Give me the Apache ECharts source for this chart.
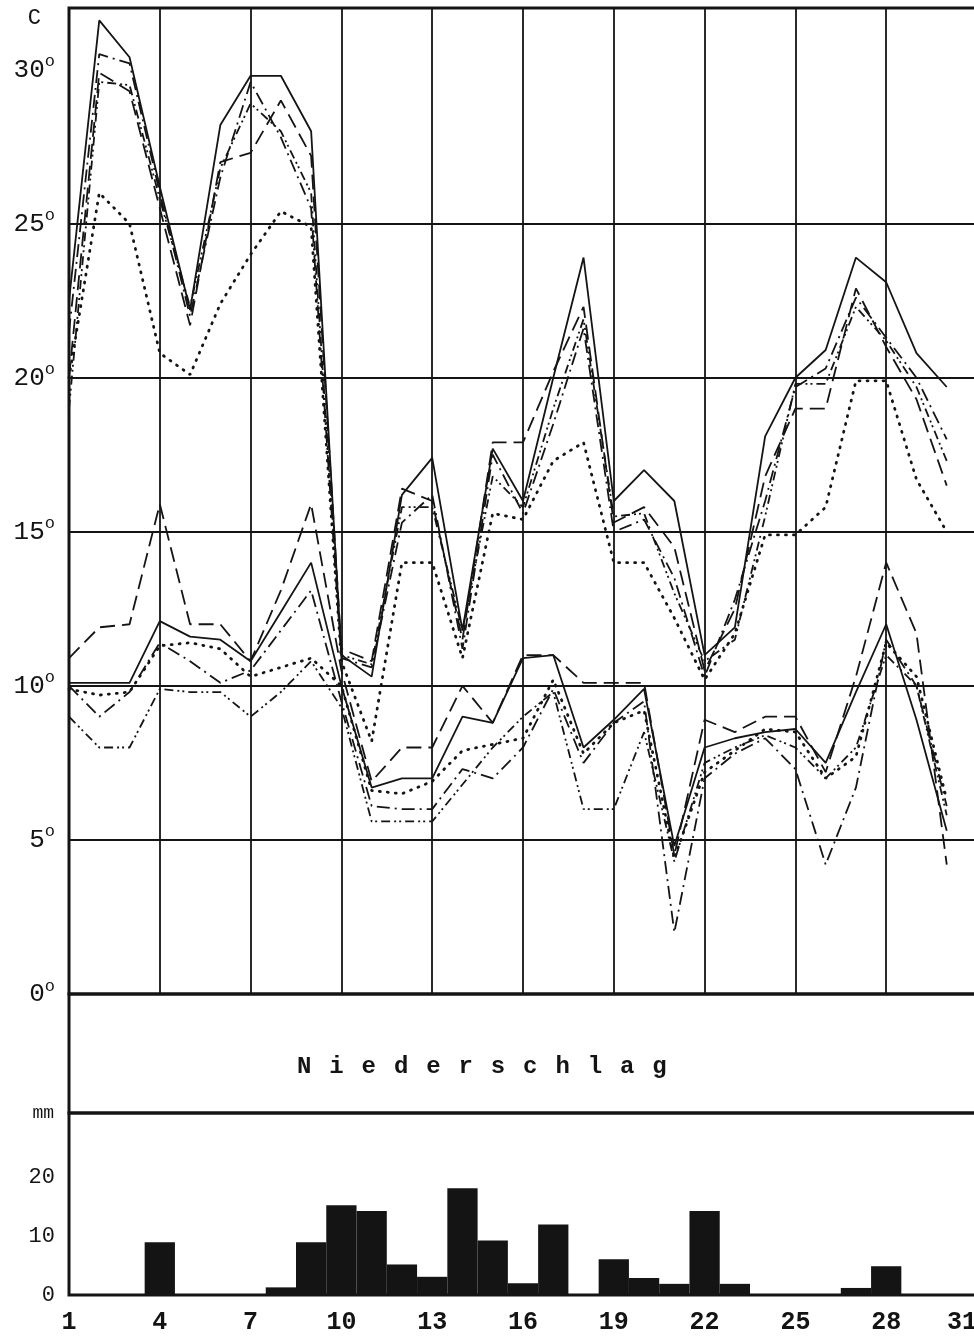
<!DOCTYPE html>
<html>
<head>
<meta charset="utf-8">
<script src="https://cdn.jsdelivr.net/npm/echarts@6/dist/echarts.min.js"></script>
<style>
  html, body { margin: 0; padding: 0; background: #fff; overflow: hidden; }
  #chart { width: 980px; height: 1337px; }
</style>
</head>
<body>
<div id="chart"></div>
<script>
// days of the month (x axis categories)
const days = ['1', '2', '3', '4', '5', '6', '7', '8', '9', '10', '11', '12', '13', '14', '15', '16',
  '17', '18', '19', '20', '21', '22', '23', '24', '25', '26', '27', '28', '29', '30', '31']

// daily maxima, one array per station (line style)
const maxSolid = [22.5, 31.6, 30.4, 26.2, 22.2, 28.2, 29.8, 29.8, 28.0, 11.0, 10.3, 16.2, 17.4, 11.8, 17.7, 16.0,
  20.0, 23.9, 16.0, 17.0, 16.0, 11.0, 11.9, 18.1, 20.0, 20.9, 23.9, 23.1, 20.8, 19.7, null]
const maxLongDash = [20.0, 29.9, 29.3, 25.5, 21.7, 27.0, 27.3, 29.0, 27.2, 11.2, 10.8, 16.4, 16.0, 11.5, 17.9, 17.9,
  20.2, 22.3, 15.3, 15.8, 14.5, 10.5, 12.5, 16.8, 19.0, 19.0, 22.9, 21.0, 19.3, 16.5, null]
const maxDashDot = [21.5, 30.5, 30.2, 26.0, 22.0, 26.5, 29.6, 27.8, 25.5, 10.9, 10.6, 15.3, 16.2, 11.2, 17.5, 15.6,
  18.5, 21.6, 15.0, 15.4, 13.5, 10.3, 12.8, 16.0, 19.7, 20.3, 22.6, 21.3, 20.0, 18.0, null]
const maxDashDotDot = [19.0, 29.6, 29.5, 25.8, 22.3, 26.8, 28.9, 28.0, 26.0, 11.0, 10.7, 15.8, 15.8, 11.8, 16.8, 15.8,
  19.0, 21.9, 15.5, 15.6, 13.0, 10.8, 11.5, 15.5, 19.8, 19.8, 22.3, 21.2, 19.7, 17.3, null]
const maxDotted = [20.0, 26.0, 25.0, 20.8, 20.1, 22.4, 24.0, 25.4, 24.9, 10.8, 8.2, 14.0, 14.0, 10.9, 15.6, 15.4,
  17.3, 17.9, 14.0, 14.0, 12.2, 10.2, 11.7, 14.9, 14.9, 15.8, 19.9, 19.9, 16.7, 15.0, null]

// daily minima
const minSolid = [10.1, 10.1, 10.1, 12.1, 11.6, 11.5, 10.8, 12.4, 14.0, 10.0, 6.7, 7.0, 7.0, 9.0, 8.8, 10.9,
  11.0, 8.0, 8.9, 9.9, 4.8, 8.0, 8.3, 8.5, 8.6, 7.5, 9.8, 12.0, 8.9, 5.3, null]
const minLongDash = [10.9, 11.9, 12.0, 15.9, 12.0, 12.0, 10.8, 13.1, 15.9, 10.5, 6.9, 8.0, 8.0, 10.0, 8.8, 11.0,
  11.0, 10.1, 10.1, 10.1, 4.5, 8.9, 8.5, 9.0, 9.0, 7.2, 10.3, 14.0, 11.7, 4.2, null]
const minDashDot = [10.0, 9.0, 9.8, 11.4, 10.8, 10.1, 10.5, 11.8, 13.1, 9.5, 6.1, 6.0, 6.0, 7.3, 7.0, 8.0,
  9.9, 7.5, 8.8, 9.5, 2.0, 7.0, 7.8, 8.3, 7.3, 4.2, 6.7, 11.5, 10.0, 6.1, null]
const minDashDotDot = [9.0, 8.0, 8.0, 9.9, 9.8, 9.8, 9.0, 9.8, 10.8, 9.3, 5.6, 5.6, 5.6, 6.8, 8.0, 9.0,
  9.8, 6.0, 6.0, 8.5, 4.3, 7.5, 8.0, 8.4, 8.0, 7.0, 8.0, 11.0, 10.0, 5.8, null]
const minDotted = [9.9, 9.7, 9.8, 11.3, 11.4, 11.2, 10.3, 10.6, 10.9, 10.0, 6.6, 6.5, 6.9, 7.9, 8.1, 8.3,
  10.2, 7.8, 8.8, 9.2, 4.4, 7.2, 7.9, 8.6, 8.5, 7.0, 7.7, 11.4, 10.3, 6.3, null]

// Niederschlag, mm per day
const rain = [0, 0, 0, 9.0, 0, 0, 0, 1.3, 9.0, 15.3, 14.3, 5.2, 3.1, 18.2, 9.3, 2.0,
  12.0, 0, 6.1, 2.9, 1.9, 14.3, 1.9, 0, 0, 0, 1.2, 4.9, 0, 0, 0]

// horizontal rules of the temperature part
const tempRules = [5, 10, 15, 20, 25]
const bandTitle = 'Niederschlag'

const ink = '#141414'
const mono = 'Liberation Mono'

const styles = {
  solid: { type: 'solid', width: 1.8 },
  longDash: { type: [15, 7], width: 1.8 },
  dashDot: { type: [13, 5, 2, 5], width: 1.8 },
  dashDotDot: { type: [9, 4, 2, 3, 2, 4], width: 1.8 },
  dotted: { type: [1, 7], width: 2.8, cap: 'round' }
}

function line (data, style) {
  return {
    type: 'line',
    xAxisIndex: 0,
    yAxisIndex: 0,
    data: data,
    symbol: 'none',
    silent: true,
    lineStyle: Object.assign({ color: ink }, styles[style])
  }
}

const series = [
  line(maxSolid, 'solid'),
  line(maxLongDash, 'longDash'),
  line(maxDashDot, 'dashDot'),
  line(maxDashDotDot, 'dashDotDot'),
  line(maxDotted, 'dotted'),
  line(minSolid, 'solid'),
  line(minLongDash, 'longDash'),
  line(minDashDot, 'dashDot'),
  line(minDashDotDot, 'dashDotDot'),
  line(minDotted, 'dotted'),
  {
    type: 'bar',
    xAxisIndex: 2,
    yAxisIndex: 2,
    data: rain,
    barWidth: '100%',
    silent: true,
    itemStyle: { color: ink }
  }
]

series[0].markLine = {
  silent: true,
  symbol: 'none',
  label: { show: false },
  lineStyle: { color: ink, width: 2, type: 'solid' },
  data: tempRules.map(v => ({ yAxis: v }))
}

let myChart = echarts.init(document.getElementById('chart'))
let option = {
  animation: false,
  backgroundColor: '#fff',
  title: {
    left: 292,
    top: 1050,
    text: bandTitle.split('').map(c => '{c|' + c + '}').join(''),
    textStyle: {
      rich: {
        c: { width: 32.3, fontSize: 24, fontFamily: mono, color: ink }
      }
    }
  },
  grid: [
    { left: 69, top: 8, width: 908, height: 986, show: true, borderColor: ink, borderWidth: 3 },
    { left: 69, top: 994, width: 908, height: 119, show: true, borderColor: ink, borderWidth: 3 },
    { left: 69, top: 1113, width: 908, height: 182, show: true, borderColor: ink, borderWidth: 3 }
  ],
  xAxis: [
    {
      gridIndex: 0,
      type: 'category',
      data: days,
      boundaryGap: false,
      axisLine: { show: false },
      axisTick: { show: false },
      axisLabel: { show: false },
      splitLine: { show: true, interval: 2, lineStyle: { color: ink, width: 1.8 } }
    },
    { gridIndex: 1, type: 'category', data: days, boundaryGap: false, show: false },
    {
      gridIndex: 2,
      type: 'category',
      data: days,
      boundaryGap: false,
      axisLine: { show: false },
      axisTick: { show: false },
      splitLine: { show: false },
      axisLabel: {
        interval: 2,
        margin: 15,
        fontSize: 25,
        fontWeight: 'bold',
        fontFamily: mono,
        color: ink,
        alignMaxLabel: 'right'
      }
    }
  ],
  yAxis: [
    {
      gridIndex: 0,
      type: 'value',
      min: 0,
      max: 32,
      interval: 5,
      splitLine: { show: false },
      axisLine: { show: false },
      axisTick: { show: false },
      name: 'C',
      nameLocation: 'end',
      nameGap: -10,
      nameTextStyle: { align: 'right', verticalAlign: 'middle', padding: [0, 28, 0, 0], fontSize: 22, fontFamily: mono, color: ink },
      axisLabel: {
        margin: 14,
        formatter: function (v) {
          return v <= 30 ? '{n|' + v + '}{d|o}' : ''
        },
        rich: {
          n: { fontSize: 26, fontFamily: mono, color: ink },
          d: { fontSize: 17, fontFamily: mono, color: ink, padding: [0, 0, 16, 0] }
        }
      }
    },
    { gridIndex: 1, type: 'value', show: false },
    {
      gridIndex: 2,
      type: 'value',
      min: 0,
      max: 31,
      interval: 10,
      splitLine: { show: false },
      axisLine: { show: false },
      axisTick: { show: false },
      name: 'mm',
      nameLocation: 'end',
      nameGap: 0,
      nameTextStyle: { align: 'right', verticalAlign: 'middle', padding: [0, 15, 0, 0], fontSize: 18, fontFamily: mono, color: ink },
      axisLabel: {
        margin: 14,
        fontSize: 22,
        fontFamily: mono,
        color: ink,
        formatter: function (v) {
          return v <= 20 ? String(v) : ''
        }
      }
    }
  ],
  series: series
}
myChart.setOption(option)
</script>
</body>
</html>
